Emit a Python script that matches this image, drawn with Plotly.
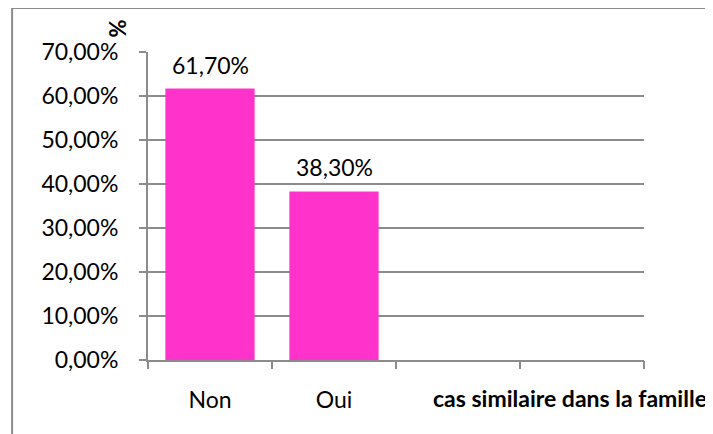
import plotly.graph_objects as go

categories = ["Non", "Oui"]
values = [61.7, 38.3]
n_slots = 4  # axe prevu pour 4 categories, 2 seulement remplies
y_ticks = [0, 10, 20, 30, 40, 50, 60, 70]


def pct(v):
    return f"{v:.2f}".replace(".", ",") + "%"


FONT = "Lato, 'Open Sans', sans-serif"
GREY = "#8c8c8c"
PINK = "#ff33cc"

fig = go.Figure()
fig.add_trace(go.Bar(x=list(range(len(categories))), y=values,
                     marker=dict(color=PINK, line=dict(width=0)),
                     showlegend=False, hoverinfo="skip"))

# etiquettes de donnees au-dessus des barres
for i, v in enumerate(values):
    fig.add_annotation(x=i, y=v, xref="x", yref="y", yanchor="bottom",
                       text=pct(v), showarrow=False,
                       yshift=8, font=dict(size=23, color="black", family=FONT))

# la page html ajoute 8px de marge autour de la figure
fig.update_layout(
    width=705, height=426,
    margin=dict(l=140, r=69, t=44, b=74),
    paper_bgcolor="white", plot_bgcolor="white",
    font=dict(family=FONT, size=23, color="black"),
    bargap=0.28,
    xaxis=dict(range=[-0.5, n_slots - 0.5], tickmode="array",
               tickvals=list(range(len(categories))), ticktext=categories,
               ticks="", showgrid=False, zeroline=False,
               showline=True, linecolor=GREY, linewidth=2,
               ticklabelstandoff=18, tickfont=dict(size=23)),
    xaxis2=dict(overlaying="x", anchor="y", side="bottom",
                range=[-0.5, n_slots - 0.5], tickmode="array",
                tickvals=[k - 0.5 for k in range(n_slots + 1)],
                ticks="outside", ticklen=8, tickwidth=2, tickcolor=GREY,
                showticklabels=False, showgrid=False, zeroline=False, showline=False),
    yaxis=dict(range=[0, 70], tickmode="array", tickvals=y_ticks,
               ticktext=[pct(t) for t in y_ticks],
               ticks="outside", ticklen=7, tickwidth=2, tickcolor=GREY,
               showgrid=True, gridcolor=GREY, gridwidth=1.5,
               zeroline=False, showline=True, linecolor=GREY, linewidth=2,
               ticklabelstandoff=16, tickfont=dict(size=23)),
)

# trace vide pour afficher l'axe des graduations aux limites
fig.add_trace(go.Scatter(x=[], y=[], xaxis="x2", showlegend=False))

# titres des axes, places comme dans Excel
fig.add_annotation(text="<b>%</b>", xref="paper", yref="paper", x=-0.093, y=1.113,
                   textangle=-90, showarrow=False, font=dict(size=22))
fig.add_annotation(text="<b>cas similaire dans la famille</b>", xref="paper", yref="paper",
                   x=1.131, y=-0.123, xanchor="right", yanchor="middle",
                   showarrow=False, font=dict(size=23))

# cadre de la zone de graphique
fig.add_shape(type="rect", xref="paper", yref="paper", x0=-0.274, x1=1.3, y0=-0.5, y1=1.143,
              line=dict(color=GREY, width=2), layer="below")

fig.write_html("out.html")
